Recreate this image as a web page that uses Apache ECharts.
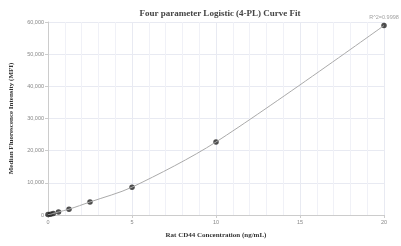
<!DOCTYPE html>
<html>
<head>
<meta charset="utf-8">
<script src="https://cdn.jsdelivr.net/npm/echarts@6/dist/echarts.min.js"></script>
<style>
html, body { margin: 0; padding: 0; background: #fff; }
#chart1 { width: 401px; height: 246px; }
</style>
</head>
<body>
<div id="chart1"></div>
<script>
// standard concentrations (ng/mL) and measured MFI
var concentrations = [0, 0.156, 0.3125, 0.625, 1.25, 2.5, 5, 10, 20];
var mfiValues = [120, 230, 450, 950, 1800, 4050, 8650, 22700, 58900];
var xTicks = [0, 5, 10, 15, 20];
var yTicks = [0, 10000, 20000, 30000, 40000, 50000, 60000];
var r2Text = "R^2=0.9998";

var points = [];
for (let i = 0; i < concentrations.length; i++) {
	points.push([concentrations[i], mfiValues[i]]);
}

var chart = echarts.init(document.getElementById("chart1"));

function fmt(v) {
	return String(v).replace(/\B(?=(\d{3})+(?!\d))/g, ",");
}

var serif = "Liberation Serif";

var option = {
	animation: false,
	title: {
		text: "Four parameter Logistic (4-PL) Curve Fit",
		left: 215,
		textAlign: "center",
		top: 4,
		textStyle: { fontFamily: serif, fontSize: 9, fontWeight: "bold", color: "#444" }
	},
	grid: { left: 47, right: 17, top: 22, bottom: 31 },
	xAxis: {
		type: "value",
		min: xTicks[0],
		max: xTicks[xTicks.length - 1],
		interval: 5,
		name: "Rat CD44 Concentration (ng/mL)",
		nameLocation: "middle",
		nameGap: 17,
		nameTextStyle: { fontFamily: serif, fontSize: 7, fontWeight: "bold", color: "#333" },
		axisLine: { lineStyle: { color: "#ccc" } },
		axisTick: { length: 3, lineStyle: { color: "#ccc" } },
		axisLabel: { fontSize: 5.5, color: "#888", margin: 4 },
		splitLine: { show: true, lineStyle: { color: "#e8eaf2" } },
		minorTick: { show: false, splitNumber: 5 },
		minorSplitLine: { show: true, lineStyle: { color: "#f0f1f7", width: 1 } }
	},
	yAxis: {
		type: "value",
		min: yTicks[0],
		max: yTicks[yTicks.length - 1],
		interval: 10000,
		name: "Median Fluorescence Intensity (MFI)",
		nameLocation: "middle",
		nameGap: 33,
		nameTextStyle: { fontFamily: serif, fontSize: 7, fontWeight: "bold", color: "#333" },
		axisLine: { show: true, lineStyle: { color: "#ccc" } },
		axisTick: { show: true, length: 3, lineStyle: { color: "#ccc" } },
		axisLabel: { fontSize: 5.5, color: "#888", margin: 4, formatter: fmt },
		splitLine: { show: true, lineStyle: { color: "#e8eaf2" } }
	},
	series: [
		{
			//拟合曲线
			type: "line",
			data: points,
			smooth: 0.3,
			showSymbol: false,
			lineStyle: { color: "#aaa", width: 1 },
			silent: true
		},
		{
			//标准点
			type: "scatter",
			data: points,
			symbolSize: 5.5,
			itemStyle: { color: "#222" },
			label: {
				show: true,
				position: "top",
				distance: 2,
				fontSize: 5.5,
				color: "#888",
				formatter: function (p) {
					return p.dataIndex === points.length - 1 ? r2Text : "";
				}
			}
		}
	]
};

chart.setOption(option);
</script>
</body>
</html>
